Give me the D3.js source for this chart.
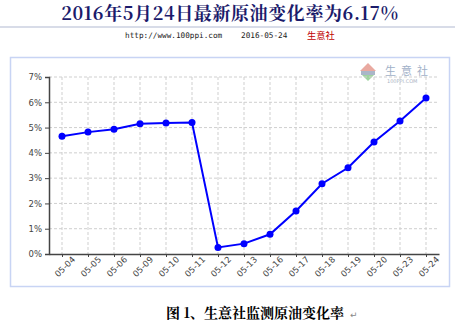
<!DOCTYPE html>
<html>
<head>
<meta charset="utf-8">
<script src="https://cdn.jsdelivr.net/npm/d3@7/dist/d3.min.js"></script>
<style>
  body { margin: 0; background: #fff; }
  svg { display: block; }
</style>
</head>
<body>
<div id="chart"></div>
<script>
const dates = ['05-04', '05-05', '05-06', '05-09', '05-10', '05-11', '05-12', '05-13',
    '05-16', '05-17', '05-18', '05-19', '05-20', '05-23', '05-24'];
const rates = [4.66, 4.82, 4.93, 5.15, 5.18, 5.20, 0.26, 0.41, 0.78, 1.70, 2.78, 3.41, 4.43, 5.26, 6.17];
const yTicks = [0, 1, 2, 3, 4, 5, 6, 7];
const titleText = '2016年5月24日最新原油变化率为6.17%';
const captionText = '图 1、生意社监测原油变化率';

const width = 455, height = 322;
const margin = {top: 77, right: 16, bottom: 68, left: 49};

let svg = d3.select('#chart')
    .append('svg')
    .attr('width', width)
    .attr('height', height);

// title + header
svg.append('text')
    .attr('x', 230).attr('y', 20)
    .attr('text-anchor', 'middle')
    .attr('font-family', '"Noto Serif CJK SC", "Noto Sans CJK SC", serif')
    .attr('font-size', 18).attr('font-weight', 'bold')
    .attr('letter-spacing', 0.6)
    .attr('fill', '#1b1b6b')
    .text(titleText);
svg.append('line')
    .attr('x1', 0).attr('x2', width).attr('y1', 27).attr('y2', 27)
    .attr('stroke', '#d8dce8').attr('stroke-width', 2);
svg.append('text')
    .attr('x', 125).attr('y', 38)
    .attr('font-family', '"DejaVu Sans Mono", monospace').attr('font-size', 7.7)
    .attr('fill', '#222')
    .text('http://www.100ppi.com');
svg.append('text')
    .attr('x', 241).attr('y', 38)
    .attr('font-family', '"DejaVu Sans Mono", monospace').attr('font-size', 7.7)
    .attr('fill', '#222')
    .text('2016-05-24');
svg.append('text')
    .attr('x', 307).attr('y', 38.5)
    .attr('font-family', '"Noto Sans CJK SC", sans-serif').attr('font-size', 9.3)
    .attr('fill', '#c00000')
    .text('生意社');

// chart frame
svg.append('rect')
    .attr('x', 10.5).attr('y', 57.5).attr('width', 439).attr('height', 229)
    .attr('fill', 'none').attr('stroke', '#c8d4f4').attr('stroke-width', 1.5);

// watermark
let wm = svg.append('g').attr('transform', 'translate(360,63)');
wm.append('path').attr('d', 'M0,8 L8,0 L16,8 Z').attr('fill', '#e9a9a0');
wm.append('rect').attr('x', 1).attr('y', 8).attr('width', 14).attr('height', 4).attr('fill', '#aab6c8');
wm.append('path').attr('d', 'M2,12 L14,12 L8,18 Z').attr('fill', '#9fd39f');
wm.append('text').attr('x', 25).attr('y', 12)
    .attr('font-family', '"Noto Sans CJK SC", sans-serif').attr('font-size', 11)
    .attr('letter-spacing', 5).attr('fill', '#9fb0c8').text('生意社');
wm.append('text').attr('x', 27).attr('y', 20)
    .attr('font-family', 'Verdana, "DejaVu Sans", sans-serif').attr('font-size', 5)
    .attr('fill', '#aab4c4').text('100PPI.COM');

const innerW = width - margin.left - margin.right;
const innerH = height - margin.top - margin.bottom;

let g = svg.append('g').attr('transform', `translate(${margin.left},${margin.top})`);

let xScale = d3.scalePoint().domain(dates).range([0, innerW]).padding(0.5);
let yScale = d3.scaleLinear().domain([0, 7]).range([innerH, 0]);

// grid
g.append('g').selectAll('line')
    .data(yTicks.slice(1))
    .enter().append('line')
    .attr('x1', 0).attr('x2', innerW)
    .attr('y1', d => yScale(d)).attr('y2', d => yScale(d))
    .attr('stroke', '#cfcfcf').attr('stroke-dasharray', '3,2');
g.append('g').selectAll('line')
    .data(dates)
    .enter().append('line')
    .attr('x1', d => xScale(d)).attr('x2', d => xScale(d))
    .attr('y1', 0).attr('y2', innerH)
    .attr('stroke', '#cfcfcf').attr('stroke-dasharray', '3,2');

// axes
let yAxis = g.append('g')
    .call(d3.axisLeft(yScale).tickValues(yTicks).tickSize(4).tickPadding(3).tickFormat(d => d + '%'));
yAxis.select('.domain').attr('stroke', '#444').attr('stroke-width', 1.5);
yAxis.selectAll('.tick line').attr('stroke', '#444');
yAxis.selectAll('text')
    .attr('font-family', 'Verdana, "DejaVu Sans", sans-serif').attr('font-size', 8.5).attr('fill', '#444');

let xAxis = g.append('g')
    .attr('transform', `translate(0,${innerH})`)
    .call(d3.axisBottom(xScale).tickSize(3).tickSizeOuter(0));
xAxis.select('.domain').attr('stroke', '#444').attr('stroke-width', 1.5);
xAxis.selectAll('.tick line').attr('stroke', '#444');
xAxis.selectAll('text')
    .attr('font-family', 'Verdana, "DejaVu Sans", sans-serif').attr('font-size', 8.5).attr('fill', '#444')
    .attr('text-anchor', 'end')
    .attr('dx', '0.6em').attr('dy', '0.9em')
    .attr('transform', 'rotate(-45)');

// line + markers
let line = d3.line()
    .x((d, i) => xScale(dates[i]))
    .y(d => yScale(d));
g.append('path')
    .datum(rates)
    .attr('d', line)
    .attr('fill', 'none')
    .attr('stroke', '#0000ff')
    .attr('stroke-width', 2);
g.selectAll('.dot')
    .data(rates)
    .enter().append('circle')
    .attr('class', 'dot')
    .attr('cx', (d, i) => xScale(dates[i]))
    .attr('cy', d => yScale(d))
    .attr('r', 3.5)
    .attr('fill', '#0000ff');

// caption
svg.append('text')
    .attr('x', 255).attr('y', 318)
    .attr('text-anchor', 'middle')
    .attr('font-family', '"Noto Serif CJK SC", "Noto Sans CJK SC", serif')
    .attr('font-size', 14).attr('font-weight', 'bold')
    .attr('fill', '#000')
    .text(captionText);
svg.append('text')
    .attr('x', 350).attr('y', 318)
    .attr('font-family', '"DejaVu Sans", sans-serif').attr('font-size', 9)
    .attr('fill', '#888')
    .text('↵');
</script>
</body>
</html>
